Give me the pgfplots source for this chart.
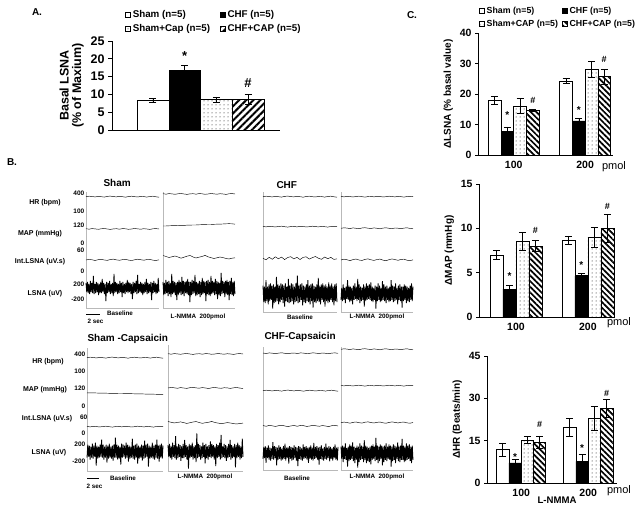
\documentclass[border=0pt]{standalone}
\usepackage{fontspec}
\setmainfont{Liberation Sans}
\usepackage{pgfplots}
\pgfplotsset{compat=1.18}
\usepackage{pgfplotstable}
\usetikzlibrary{patterns.meta}
\newcommand{\fs}[1]{\fontsize{#1bp}{#1bp}\selectfont\bfseries}

\pgfplotstableread{
a b c d
5 6 7 -6
-4 -7 -8 5
6 5 6 -7
-5 -6 -9 8
4 8 12 -6
-6 -5 -7 5
7 6 6 -9
-4 -8 -10 6
5 7 8 -5
-5 -6 -7 12
12 5 9 -6
-6 -9 -6 7
4 14 7 -8
-5 -6 -14 6
6 7 8 -7
-4 -5 -9 5
5 6 6 -10
-7 -7 -8 7
4 5 15 -6
-5 -12 -7 9
6 6 8 -5
-5 -7 -10 6
9 8 7 -7
-4 -5 -8 13
5 6 9 -6
-6 -7 -6 8
4 11 8 -9
-13 -6 -9 6
6 7 7 -7
-5 -8 -12 5
5 6 9 -6
-4 -5 -7 8
7 7 6 -12
-6 -6 -8 6
4 9 13 -7
-5 -7 -9 9
5 6 7 -6
-8 -14 -8 7
14 6 9 -5
-5 -7 -7 8
6 8 8 -6
-4 -6 -10 10
5 7 6 -7
-6 -5 -8 6
4 13 9 -8
-5 -8 -7 5
7 6 16 -6
-4 -7 -9 7
5 5 7 -14
-9 -6 -8 6
6 7 8 -7
-5 -9 -6 9
4 6 9 -6
-6 -7 -11 7
5 10 7 -8
-4 -6 -8 5
8 7 6 -7
-5 -5 -9 11
6 6 8 -6
-4 -13 -7 8
5 7 12 -7
-6 -6 -8 6
4 8 7 -9
-11 -7 -10 7
6 6 8 -6
-5 -8 -7 5
5 12 9 -8
-4 -6 -13 6
7 7 7 -7
-6 -5 -8 12
13 6 6 -6
-5 -7 -9 7
4 9 8 -8
-4 -6 -7 6
6 7 14 -7
-5 -11 -8 9
5 6 7 -6
-7 -7 -10 5
4 5 8 -10
-5 -8 -6 7
6 15 9 -6
-4 -6 -8 8
9 7 7 -7
-6 -5 -12 6
5 6 8 -13
-5 -9 -7 6
4 7 6 -7
-4 -6 -9 8
6 8 10 -6
-12 -7 -8 7
5 6 7 -9
-5 -12 -6 6
7 7 9 -7
-4 -6 -8 5
5 10 6 -8
-6 -7 -11 7
4 6 8 -6
-5 -8 -7 9
10 7 9 -7
-4 -6 -8 6
}\noise

\pgfplotstableread{
w1 w2 i1 i2 i3 m2 m3
0 0.3 0 2.5 0 0 0.5
0.5 -0.2 1 1.5 -1.5 0 0.4
0.2 0.4 0.3 0.5 1 0.2 0.4
-0.3 0.1 -0.8 1.2 -1 0.3 0.3
0.4 -0.3 0.5 2 1.5 0.3 0.2
0 0.2 1.2 1 -0.5 0.5 0.2
-0.4 0.5 0 -0.2 1.2 0.6 0.1
0.3 0 -0.6 0.8 -1.3 0.6 0
0.6 -0.4 0.8 1.8 0.8 0.8 0
0.1 0.1 1.4 2.5 1.6 0.9 -0.1
-0.2 0.3 0.2 1 -0.6 1 -0.2
0.4 -0.2 -0.5 0 1 1 -0.2
0 0.4 0.6 0.8 -1.2 1.2 -0.3
-0.5 0.2 1.1 1.5 0.9 1.3 -0.4
0.2 -0.3 -0.2 2.6 1.5 1.4 -0.4
0.5 0 -0.9 1.2 -0.8 1.5 -0.5
0 0.5 0.4 0.3 0.6 1.5 -0.6
-0.3 0.1 1.3 -0.5 1.8 1.7 -0.6
0.3 -0.2 0.5 0.2 0 1.8 -0.7
0.1 0.3 -0.4 1 -1 1.9 -0.8
-0.4 0 0.7 0.4 1.3 2 -0.8
0.2 -0.4 1 -0.5 -0.4 2.2 -0.9
0.5 0.2 -0.3 -1 0.9 2.3 -1
-0.1 0.4 -0.8 -0.2 -1.1 2.2 -1
-0.5 0 0.2 0.2 -0.6 1.8 -1.1
}\slow

\pgfplotsset{
  trace/.style={scale only axis, anchor=south west, axis lines*=left,
    axis line style={-, gray!55, line width=0.5pt}, ticks=none, clip=false,
    xmin=0, ymin=0},
  sl/.style={black, line width=0.45pt},
  nz/.style={black, line width=0.85pt},
  eb/.style={/pgfplots/error bars/y dir=both, /pgfplots/error bars/y explicit,
    /pgfplots/error bars/error bar style={black, line width=0.6pt, solid},
    /pgfplots/error bars/error mark options={black, rotate=90, mark size=3.5bp, line width=0.6pt, solid}},
  sqleg/.style={/pgfplots/legend image code/.code={\draw[##1, line width=0.5pt] (0bp,-2.5bp) rectangle (5bp,2.5bp);}},
  sham/.style={fill=white, draw=black, line width=0.6pt, eb, sqleg},
  chf/.style={fill=black, draw=black, line width=0.6pt, eb, sqleg},
  scap/.style={draw=black, line width=0.6pt, pattern={Dots[distance=4bp, radius=0.5bp]}, eb, sqleg},
  ccapA/.style={draw=black, line width=0.6pt, pattern={Lines[angle=45, distance=5bp, line width=2bp]}, eb, sqleg},
  ccapC/.style={draw=black, line width=0.6pt, pattern={Lines[angle=-45, distance=4bp, line width=1.7bp]}, eb, sqleg},
  cax/.style={scale only axis, anchor=south west, ybar=0pt, axis lines*=left,
    axis line style={-, line width=0.6pt}, ymin=0, xtick={1,2}, xticklabels={100,200},
    x tick style={draw=none}, extra x ticks={1.5}, extra x tick labels={},
    extra x tick style={major tick length=4bp, tick style={draw=black, line width=0.6pt}},
    tick align=outside, major tick length=3bp, y tick style={black, line width=0.6pt},
    tick label style={font=\fs{10.5}}, /pgf/number format/assume math mode=true,
    ylabel style={font=\fs{10}}, clip=false},
}

\begin{document}
\begin{tikzpicture}[x=1bp, y=1bp]
\path[use as bounding box] (0,0) rectangle (638,509);

% ---------------- Panel A ----------------
\node[font=\fs{10}] at (37,497) {A.};
\begin{axis}[scale only axis, anchor=south west, at={(112bp,379bp)}, width=168bp, height=89bp,
  xmin=-0.054, xmax=1.946, ymin=0, ymax=25, ytick={0,5,...,25}, xtick=\empty,
  ybar=0pt, bar width=31.7bp, axis lines*=left, axis line style={-, line width=0.7pt},
  tick align=outside, major tick length=4bp, y tick style={black, line width=0.7pt},
  tick label style={font=\fs{12.5}}, /pgf/number format/assume math mode=true,
  ylabel={Basal LSNA\\(\% of Maxium)}, ylabel style={align=center, font=\fs{12.5}},
  clip=false,
  legend columns=2, legend cell align=left,
  legend style={draw=none, fill=none, at={(rel axis cs:0.06,1.395)}, anchor=north west,
    font=\fs{9.8}, /tikz/every even column/.append style={column sep=8bp}, row sep=2bp}]
\addplot[sham] coordinates {(1,8.3) +- (0,0.6)};
\addplot[chf] coordinates {(1,16.8) +- (0,1.3)};
\addplot[scap] coordinates {(1,8.5) +- (0,0.8)};
\addplot[ccapA] coordinates {(1,8.5) +- (0,1.4)};
\legend{Sham (n=5), CHF (n=5), Sham+Cap (n=5), CHF+CAP (n=5)}
\node[font=\fs{13}, xshift=-15.85bp] at (axis cs:1,20.8) {*};
\node[font=\fs{13}, xshift=47.55bp] at (axis cs:1,13.2) {\#};
\end{axis}

% ---------------- Panel B ----------------
\node[font=\fs{10}] at (12,347) {B.};
% labels Sham block
\node[font=\fs{10}, anchor=west] at (100,326) {Sham};
\node[font=\fs{7}] at (45,306) {HR (bpm)};
\node[font=\fs{7}] at (40,275) {MAP (mmHg)};
\node[font=\fs{7}] at (40,247) {Int.LSNA (uV.s)};
\node[font=\fs{7}] at (45,215) {LSNA (uV)};
\begin{scope}[every node/.style={font=\fs{6.5}, anchor=east, inner sep=0.5bp}]
\node at (85,316) {400};
\node at (85,298) {100};
\node at (85,284) {120};
\node at (85,266) {0};
\node at (85,259) {60};
\node at (85,238) {0};
\node at (85,225) {200};
\node at (85,210) {-200};
\end{scope}
\draw[black, line width=0.5pt] (86,195) -- (100,195);
\node[font=\fs{6.3}, anchor=west] at (84,188) {2 sec};
\node[font=\fs{6.3}] at (120,196) {Baseline};
\node[font=\fs{6.3}] at (198,192) {L-NMMA~~200pmol};

\begin{axis}[trace, at={(86bp,201bp)}, width=73bp, height=116bp, xmax=73, ymax=116]
\addplot[sl] table[x expr=\coordindex*3.042, y expr=111.3+\thisrow{w1}] {\slow};
\addplot[sl] table[x expr=\coordindex*3.042, y expr=79+\thisrow{w2}] {\slow};
\addplot[sl] table[x expr=\coordindex*3.042, y expr=48+0.6*\thisrow{i1}] {\slow};
\addplot[nz] table[x expr=\coordindex*0.737, y expr=20+\thisrow{a}] {\noise};
\end{axis}
\begin{axis}[trace, at={(163bp,201bp)}, width=72bp, height=116bp, xmax=72, ymax=116]
\addplot[sl] table[x expr=\coordindex*3.0, y expr=114+\thisrow{w2}] {\slow};
\addplot[sl] table[x expr=\coordindex*3.0, y expr=82+\thisrow{m2}] {\slow};
\addplot[sl] table[x expr=\coordindex*3.0, y expr=50+\thisrow{i2}] {\slow};
\addplot[nz] table[x expr=\coordindex*0.727, y expr=20+\thisrow{b}] {\noise};
\end{axis}

% CHF block
\node[font=\fs{10}, anchor=west] at (273,324) {CHF};
\node[font=\fs{6.3}] at (300,192) {Baseline};
\node[font=\fs{6.3}] at (377,192) {L-NMMA~~200pmol};
\begin{axis}[trace, at={(263bp,197bp)}, width=74bp, height=120bp, xmax=74, ymax=120]
\addplot[sl] table[x expr=\coordindex*3.083, y expr=115.3+\thisrow{w1}] {\slow};
\addplot[sl] table[x expr=\coordindex*3.083, y expr=85.3+\thisrow{w2}] {\slow};
\addplot[sl] table[x expr=\coordindex*3.083, y expr=53.7+\thisrow{i3}] {\slow};
\addplot[nz] table[x expr=\coordindex*0.747, y expr=18.7+1.1*\thisrow{c}] {\noise};
\end{axis}
\begin{axis}[trace, at={(341bp,197bp)}, width=72bp, height=120bp, xmax=72, ymax=120]
\addplot[sl] table[x expr=\coordindex*3.0, y expr=115.3+\thisrow{w2}] {\slow};
\addplot[sl] table[x expr=\coordindex*3.0, y expr=83.7+\thisrow{w1}] {\slow};
\addplot[sl] table[x expr=\coordindex*3.0, y expr=52+0.8*\thisrow{i1}] {\slow};
\addplot[nz] table[x expr=\coordindex*0.727, y expr=18.7+1.1*\thisrow{d}] {\noise};
\end{axis}

% Sham-Capsaicin block
\node[font=\fs{10}, anchor=west] at (84,170) {Sham -Capsaicin};
\node[font=\fs{7}] at (48,147) {HR (bpm)};
\node[font=\fs{7}] at (45,119) {MAP (mmHg)};
\node[font=\fs{7}] at (47,90) {Int.LSNA (uV.s)};
\node[font=\fs{7}] at (49,56) {LSNA (uV)};
\begin{scope}[every node/.style={font=\fs{6.5}, anchor=east, inner sep=0.5bp}]
\node at (86,155) {400};
\node at (86,138) {100};
\node at (86,121) {120};
\node at (86,103) {0};
\node at (88,92) {60};
\node at (86,76) {0};
\node at (86,65) {200};
\node at (86,48) {-200};
\end{scope}
\draw[black, line width=0.5pt] (87,31) -- (99,31);
\node[font=\fs{6.3}, anchor=west] at (83,23) {2 sec};
\node[font=\fs{6.3}] at (123,31) {Baseline};
\node[font=\fs{6.3}] at (205,32) {L-NMMA~~200pmol};
\begin{axis}[trace, at={(87bp,38bp)}, width=76bp, height=123bp, xmax=76, ymax=123]
\addplot[sl] table[x expr=\coordindex*3.167, y expr=113.3+\thisrow{w1}] {\slow};
\addplot[sl] table[x expr=\coordindex*3.167, y expr=77.7+\thisrow{m3}] {\slow};
\addplot[sl] table[x expr=\coordindex*3.167, y expr=44.3+\thisrow{w2}] {\slow};
\addplot[nz] table[x expr=\coordindex*0.768, y expr=19.3-\thisrow{b}] {\noise};
\end{axis}
\begin{axis}[trace, at={(168bp,38bp)}, width=75bp, height=126bp, xmax=75, ymax=126]
\addplot[sl] table[x expr=\coordindex*3.125, y expr=117+\thisrow{w2}] {\slow};
\addplot[sl] table[x expr=\coordindex*3.125, y expr=83+\thisrow{w1}] {\slow};
\addplot[sl] table[x expr=\coordindex*3.125, y expr=47.7+0.7*\thisrow{i2}] {\slow};
\addplot[nz] table[x expr=\coordindex*0.758, y expr=19.3+1.3*\thisrow{a}] {\noise};
\end{axis}

% CHF-Capsaicin block
\node[font=\fs{10}, anchor=west] at (261,172) {CHF-Capsaicin};
\node[font=\fs{6.3}] at (297,31) {Baseline};
\node[font=\fs{6.3}] at (377,32) {L-NMMA~~200pmol};
\begin{axis}[trace, at={(263bp,39bp)}, width=75bp, height=123bp, xmax=75, ymax=123]
\addplot[sl] table[x expr=\coordindex*3.125, y expr=116.7+\thisrow{w2}] {\slow};
\addplot[sl] table[x expr=\coordindex*3.125, y expr=79.3+\thisrow{w1}] {\slow};
\addplot[sl] table[x expr=\coordindex*3.125, y expr=44+1.5*\thisrow{w2}] {\slow};
\addplot[nz] table[x expr=\coordindex*0.758, y expr=16.7-0.8*\thisrow{c}] {\noise};
\end{axis}
\begin{axis}[trace, at={(341bp,39bp)}, width=72bp, height=123bp, xmax=72, ymax=123]
\addplot[sl] table[x expr=\coordindex*3.0, y expr=120.7+\thisrow{w1}] {\slow};
\addplot[sl] table[x expr=\coordindex*3.0, y expr=84.3+\thisrow{w2}] {\slow};
\addplot[sl] table[x expr=\coordindex*3.0, y expr=47.3+0.6*\thisrow{i1}] {\slow};
\addplot[nz] table[x expr=\coordindex*0.727, y expr=16.7-1.1*\thisrow{d}] {\noise};
\end{axis}

% ---------------- Panel C ----------------
\node[font=\fs{10}] at (412,494) {C.};
\begin{axis}[cax, at={(478bp,354bp)}, width=135bp, height=122bp, xmin=0.5, xmax=2.39,
  ymax=40, ytick={0,10,...,40}, bar width=12.7bp, ylabel={ΔLSNA (\% basal value)},
  legend columns=2, legend cell align=left,
  legend style={draw=none, fill=none, at={(rel axis cs:-0.015,1.25)}, anchor=north west,
    font=\fs{8.8}, /tikz/every even column/.append style={column sep=2bp}, row sep=1.5bp}]
\addplot[sham] coordinates {(1,18) +- (0,1.3) (2,24.3) +- (0,0.9)};
\addplot[chf] coordinates {(1,7.7) +- (0,1.5) (2,11.2) +- (0,0.8)};
\addplot[scap] coordinates {(1,16.1) +- (0,2.4) (2,28.1) +- (0,2.7)};
\addplot[ccapC] coordinates {(1,14.6) +- (0,0.4) (2,25.7) +- (0,2.4)};
\legend{Sham (n=5), CHF (n=5), Sham+CAP (n=5), CHF+CAP (n=5)}
\node[font=\fs{10}, xshift=-6.35bp] at (axis cs:1,13) {*};
\node[font=\fs{10}, xshift=-6.35bp] at (axis cs:2,14.6) {*};
\node[font=\fs{9}, xshift=19.05bp] at (axis cs:1,18) {\#};
\node[font=\fs{9}, xshift=19.05bp] at (axis cs:2,31.2) {\#};
\end{axis}
\node[font=\fontsize{11bp}{11bp}\selectfont] at (614,342) {pmol};

\begin{axis}[cax, at={(479bp,192bp)}, width=134bp, height=133bp, xmin=0.486, xmax=2.35,
  ymax=15, ytick={0,5,10,15}, bar width=13bp, ylabel={ΔMAP (mmHg)}]
\addplot[sham] coordinates {(1,7) +- (0,0.47) (2,8.7) +- (0,0.45)};
\addplot[chf] coordinates {(1,3.15) +- (0,0.37) (2,4.65) +- (0,0.3)};
\addplot[scap] coordinates {(1,8.5) +- (0,1) (2,9) +- (0,1.1)};
\addplot[ccapC] coordinates {(1,8) +- (0,0.6) (2,10) +- (0,1.6)};
\node[font=\fs{10}, xshift=-6.5bp] at (axis cs:1,4.65) {*};
\node[font=\fs{10}, xshift=-6.5bp] at (axis cs:2,5.85) {*};
\node[font=\fs{9}, xshift=19.5bp] at (axis cs:1,9.8) {\#};
\node[font=\fs{9}, xshift=19.5bp] at (axis cs:2,12.5) {\#};
\end{axis}
\node[font=\fontsize{11bp}{11bp}\selectfont] at (619,186) {pmol};

\begin{axis}[cax, at={(487bp,26bp)}, width=130bp, height=127bp, xmin=0.49, xmax=2.43,
  ymax=45, ytick={0,15,30,45}, bar width=12.3bp, ylabel={ΔHR (Beats/min)}]
\addplot[sham] coordinates {(1,11.8) +- (0,2.4) (2,19.7) +- (0,3.1)};
\addplot[chf] coordinates {(1,7.1) +- (0,1.2) (2,7.7) +- (0,2.3)};
\addplot[scap] coordinates {(1,15.3) +- (0,1.2) (2,22.9) +- (0,4.3)};
\addplot[ccapC] coordinates {(1,14.5) +- (0,2.2) (2,26.4) +- (0,3.1)};
\node[font=\fs{10}, xshift=-6.15bp] at (axis cs:1,9.3) {*};
\node[font=\fs{10}, xshift=-6.15bp] at (axis cs:2,12.3) {*};
\node[font=\fs{9}, xshift=18.45bp] at (axis cs:1,20.8) {\#};
\node[font=\fs{9}, xshift=18.45bp] at (axis cs:2,31.8) {\#};
\end{axis}
\node[font=\fontsize{11bp}{11bp}\selectfont] at (619,18) {pmol};
\node[font=\fs{9.6}] at (557,9) {L-NMMA};

\end{tikzpicture}
\end{document}
